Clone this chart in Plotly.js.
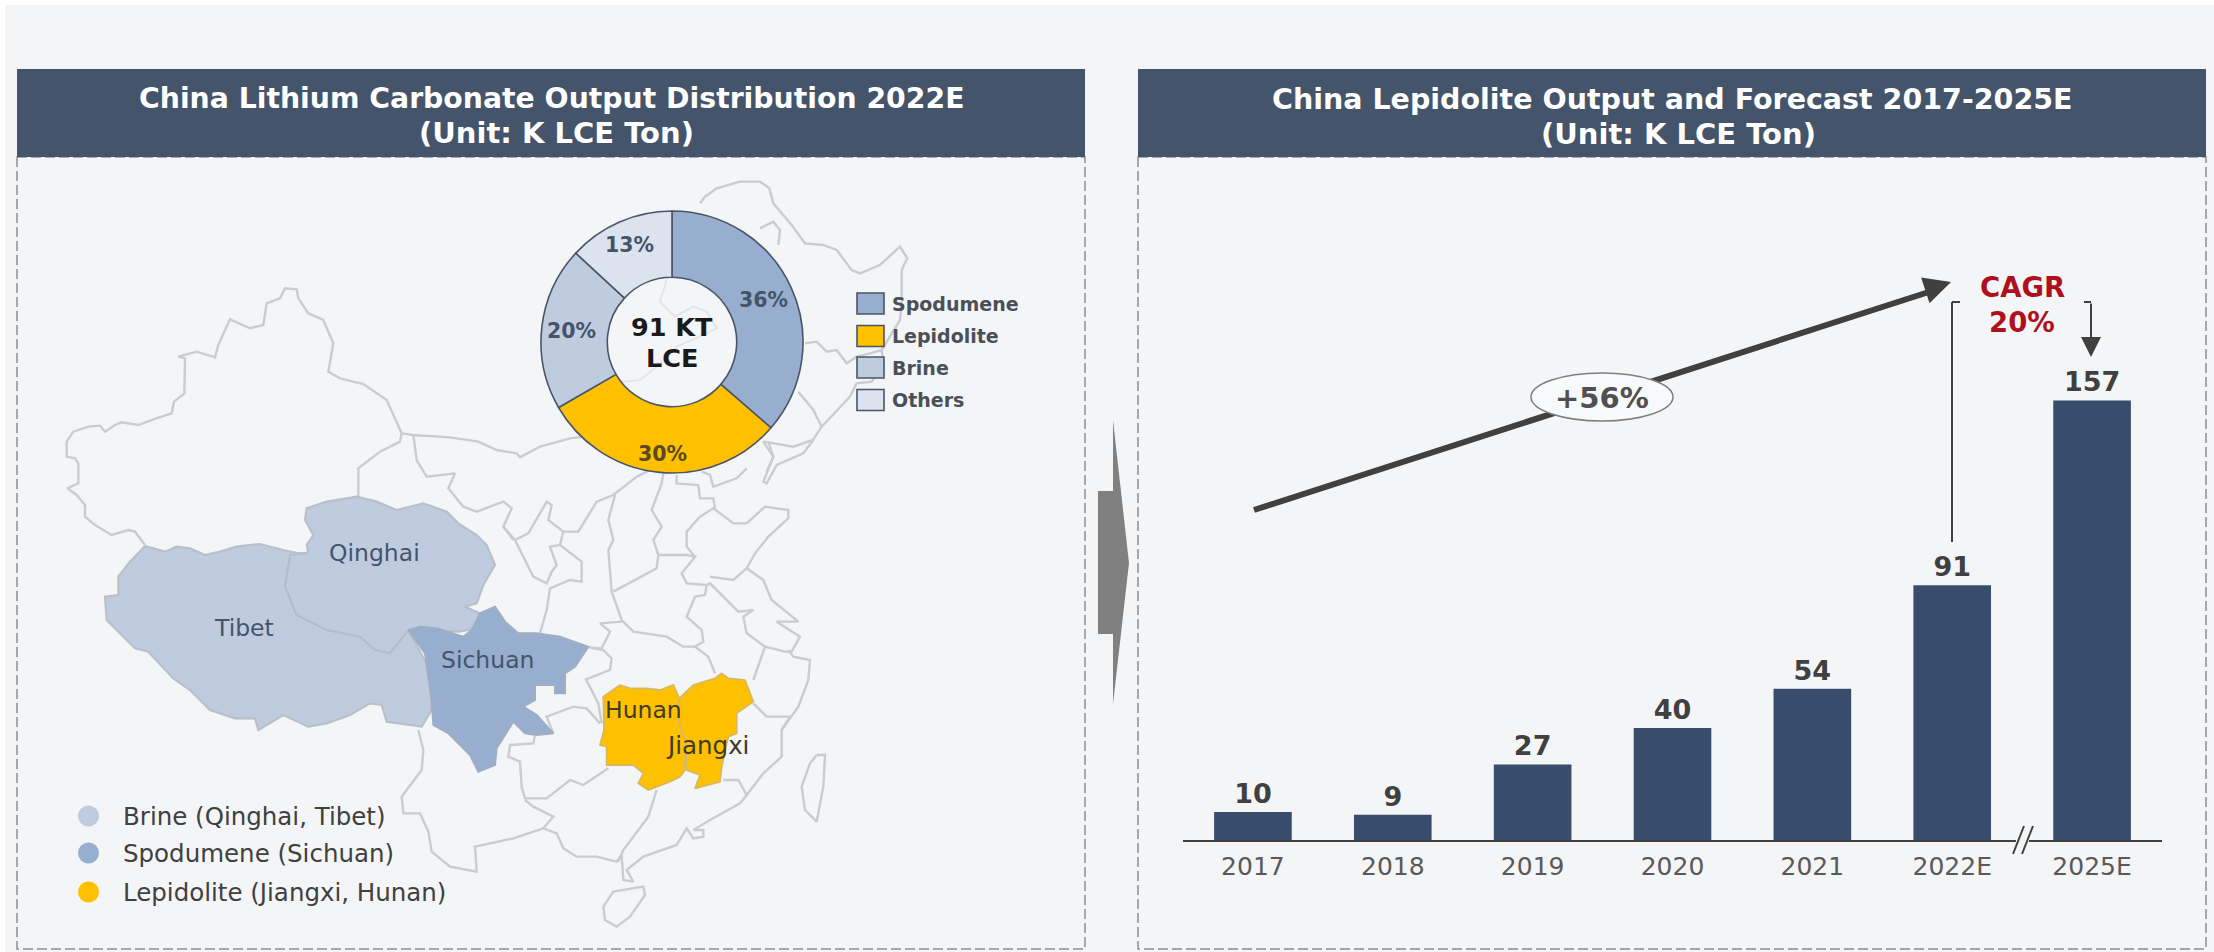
<!DOCTYPE html>
<html><head><meta charset="utf-8">
<script src="https://cdn.plot.ly/plotly-3.0.1.min.js"></script>
<style>html,body{margin:0;padding:0;background:#fff}#c{width:2214px;height:952px}</style></head>
<body><div id="c"></div>
<script>
const W=2214,H=952;
// ---- chart data
const years=['2017','2018','2019','2020','2021','2022E','2025E'];
const output=[10,9,27,40,54,91,157];
const mixLabels=['Spodumene','Lepidolite','Brine','Others'];
const mixValues=[36,30,20,13];
const mixColors=['#98AECE','#FFC000','#BFCCDF','#DCE3EE'];
const regionLegend=['Brine (Qinghai, Tibet)','Spodumene (Sichuan)','Lepidolite (Jiangxi, Hunan)'];
const regionColors=['#BFCCDF','#98AECE','#FFC000'];
const provinceNames=['Qinghai','Tibet','Sichuan','Hunan','Jiangxi'];
// ---- map outlines; each list is x,y in a 3x grid with its own origin
const O5=[50,260],O6=[400,440],O7=[560,170];
const tibet=[285,858,345,875,380,860,420,865,465,885,510,875,560,860,630,852,700,870,745,880,775,878,800,1000,1075,1110,1140,1230,1145,1350,1115,1400,1010,1385,995,1335,960,1330,900,1365,830,1390,775,1400,700,1365,625,1410,615,1375,555,1375,480,1350,420,1290,370,1255,295,1175,255,1165,170,1080,165,1010,205,1005,205,950,240,905];
const qinghai=[775,880,770,855,790,825,765,780,770,745,830,725,920,710,980,725,1040,750,1120,730,1190,755,1225,790,1280,825,1310,855,1335,915,1300,975,1280,1030,1245,1040,1300,1065,1300,1100,1230,1115,1075,1110,1020,1180,975,1170,930,1130,830,1110,740,1065,705,980,720,885];
const qinghaiEdge=[720,885,705,980,740,1065,830,1110,930,1130,975,1170,1020,1180,1075,1110];
const sichuan=[25,570,60,560,110,565,190,590,215,570,240,520,285,500,315,545,355,580,410,580,480,590,565,620,525,680,495,700,495,760,465,760,465,735,405,735,405,780,370,800,410,825,460,880,410,885,375,880,340,845,325,870,290,925,285,975,235,995,210,945,145,880,100,855,95,780,75,640];
const hunan=[660,735,690,745,740,745,780,750,820,735,838,775,835,840,855,900,855,990,840,1010,810,1025,770,1040,745,1050,715,1030,730,1000,700,975,620,975,620,920,600,915,612,870,610,770];
const jiangxi=[838,775,880,735,945,715,965,700,985,715,1035,720,1060,785,1010,820,1010,880,985,890,965,980,960,1025,885,1045,900,1005,860,990,855,900,835,840];
const hainan=[610,1400,640,1355,730,1340,735,1365,690,1430,650,1460,615,1440,610,1400];
const taiwan=[1250,945,1275,945,1270,1040,1250,1145,1215,1110,1205,1040,1230,970,1250,945];
const westLines=[
 [285,855,255,815,235,810,185,825,135,795,105,770,105,735,80,705,52,685,85,670,85,610,75,595,50,590,50,545,70,515,115,500,150,497,165,515,195,495,215,487,265,495,310,478,365,460,372,425,403,400,405,295,385,290,440,275,495,292,505,255,540,178,600,205,640,195,650,130,690,115,705,85,740,88,745,115,775,160,820,180,850,250,835,335,870,355,940,372,1010,420,1055,520],
 [1055,520,1050,545,990,575,925,625,925,712],
 [1055,520,1090,525,1200,532,1285,545,1340,570,1400,580,1410,592,1470,560,1560,535,1640,525],
 [1090,525,1100,600,1130,650,1215,640,1195,685,1240,740,1280,755,1360,725,1385,745,1360,800,1390,840]
];
const eastLines=[
 [310,260,345,300,385,280,440,185,455,195,445,240,490,275,535,275,590,185,640,165,710,110,760,85],
 [345,300,400,410,440,430,455,395,470,375,450,320,480,315,545,365,545,425,510,420,450,445,440,510,420,580],
 [490,275,480,315],
 [645,165,625,240,640,300,625,330,635,455,665,540,700,575,800,590,850,620,885,620],
 [665,545,600,550,630,575,605,625,565,622,610,630,635,655,630,690,558,718,595,790,605,850],
 [460,880,440,830,520,800,560,805,600,850],
 [405,885,400,910,330,915,325,950,360,965,365,1040,375,1075,440,1075,510,1020,550,1035,625,985],
 [375,1080,400,1100,460,1130,430,1165,470,1180,490,1225,530,1250,590,1250,650,1265,665,1245,670,1320,700,1325,680,1290,730,1250,830,1215,860,1165,880,1195,910,1190,910,1170,880,1170,930,1140,1020,1090,1040,1065],
 [55,870,70,930,65,990,5,1070,10,1120,60,1120,85,1175,95,1235,150,1280,230,1295,225,1220,340,1195,430,1165],
 [770,1050,745,1130,670,1230,655,1265],
 [970,1020,1015,1020,1040,1065,1090,1000,1145,950,1145,870,1195,800,1225,720,1230,660,1180,650,1165,630],
 [1145,870,1170,830,1100,830,1060,790],
 [1060,720,1095,620,1155,635,1175,635,1200,590,1130,545,1195,545,1115,480,1090,420,1040,385],
 [1095,620,1040,580,1030,530,1060,510,1015,515,970,470,930,430,920,435,915,465,885,470,860,530,905,570,910,605,885,620,925,650,945,700],
 [640,455,770,385,775,345,860,345,885,350,845,400,860,430,920,435],
 [775,345,760,300,785,260,755,210,785,130,790,100],
 [885,350,860,320,860,275,900,230,940,205,1000,250,1040,250,1095,200,1165,210,1165,235,1105,290,1065,340,1040,385,1000,420,930,410],
 [830,105,830,130,895,135,900,175,940,175,945,205],
 [905,95,930,105,940,140,1010,115,1040,85],
 [1105,5,1120,50,1090,125,1100,130,1130,75,1210,40,1240,0]
];
const northLines=[
 [420,100,435,80,470,55,540,35,600,35,628,55,640,100,695,165,735,220,790,225,830,240,875,300,900,310,960,285,1020,230,1042,265,1025,300,1025,400,1020,450,965,540,970,580,935,635,890,640,870,680,785,770,759,810,700,830,640,820,610,815,640,860,620,905],
 [735,520,770,515,800,545,830,540,860,580,890,560,930,550,965,540],
 [715,665,760,720,785,770],
 [600,175,640,155,660,180,655,225]
];
const holeLines=[[320,330,300,395,315,410,345,440,400,410,440,425,470,475,440,490,350,530,290,590,240,630,190,635,160,620]];

function toXY(list,o){const x=[],y=[];for(let i=0;i<list.length;i+=2){x.push(o[0]+list[i]/3);y.push(o[1]+list[i+1]/3);}return {x,y};}
function lines(groups,o){const x=[],y=[];groups.forEach(g=>{const p=toXY(g,o);x.push(...p.x,null);y.push(...p.y,null);});return {x,y};}
function poly(list,o,fill,edge,w){const p=toXY(list,o);return {type:'scatter',mode:'lines',x:p.x.concat(p.x[0]),y:p.y.concat(p.y[0]),fill:'toself',fillcolor:fill,line:{color:edge,width:w},xaxis:'x2',yaxis:'y2',hoverinfo:'skip',showlegend:false};}
function stroke(d,c,w){return {type:'scatter',mode:'lines',x:d.x,y:d.y,line:{color:c,width:w},xaxis:'x2',yaxis:'y2',hoverinfo:'skip',showlegend:false,connectgaps:false};}

const F='"DejaVu Sans", Verdana, sans-serif';
const MAPLINE='#CACCCF';
const cx=672,cy=342,R=131;
const traces=[
 {type:'bar',x:years,y:output,marker:{color:'#384C6C'},width:0.555,text:output.map(String),textposition:'outside',cliponaxis:false,
  textfont:{family:F,size:27,color:'#404040',weight:700},hoverinfo:'skip',showlegend:false},
 stroke(lines(westLines,O5),MAPLINE,2.4),
 stroke(lines(eastLines,O6),MAPLINE,2.4),
 stroke(lines(northLines,O7),MAPLINE,2.4),
 stroke(lines(holeLines,O7),'#E3E5E8',2),
 poly(hainan,O6,'rgba(0,0,0,0)',MAPLINE,2.4),
 poly(taiwan,O6,'rgba(0,0,0,0)',MAPLINE,2.4),
 poly(tibet,O5,'#BFCCDF','#B9C0CA',2.2),
 poly(qinghai,O5,'#BFCCDF','#B9C0CA',2.2),
 stroke(toXY(qinghaiEdge,O5),'#B4BDCB',1.6),
 poly(sichuan,O6,'#98AECE','#A0AEC4',2),
 poly(hunan,O6,'#FFC000','#D8B960',1.8),
 poly(jiangxi,O6,'#FFC000','#D8B960',1.8),
 {type:'scatter',mode:'markers',x:[88.5,88.5,88.5],y:[816,853,892],marker:{size:21,color:regionColors},xaxis:'x2',yaxis:'y2',hoverinfo:'skip',showlegend:false},
 {type:'pie',labels:mixLabels,values:mixValues,sort:false,direction:'clockwise',rotation:0,hole:0.494,
  marker:{colors:mixColors,line:{color:'#4A5568',width:1.6}},textinfo:'none',hoverinfo:'skip',showlegend:false,
  domain:{x:[(cx-R)/W,(cx+R)/W],y:[1-(cy+R)/H,1-(cy-R)/H]}}
];

function prect(x0,y0,x1,y1,fill,line){return {type:'rect',xref:'paper',yref:'paper',x0:x0/W,y0:1-y0/H,x1:x1/W,y1:1-y1/H,fillcolor:fill||'rgba(0,0,0,0)',line:line||{width:0},layer:'below'};}
function rect(x0,y0,x1,y1,fill,line,layer){return {type:'rect',xref:'x2',yref:'y2',x0,y0,x1,y1,fillcolor:fill||'rgba(0,0,0,0)',line:line||{width:0},layer:layer||'above'};}
function seg(x0,y0,x1,y1,c,w,layer){return {type:'line',xref:'x2',yref:'y2',x0,y0,x1,y1,line:{color:c,width:w},layer:layer||'above'};}
function txt(text,x,y,size,color,bold,anchor){return {text:bold?'<b>'+text+'</b>':text,x,y,xref:'x2',yref:'y2',showarrow:false,xanchor:anchor||'center',yanchor:'middle',font:{family:F,size,color}};}

const DASH={color:'#8C8F93',width:1.5,dash:'10px,4px'};
const shapes=[
 prect(5,5,W,H,'#F3F5F7'),
 prect(17,157,1085,949,null,DASH),
 prect(1138,157,2206,949,null,DASH),
 prect(17,69,1085,157,'#44546A'),
 prect(1138,69,2206,157,'#44546A'),
 {type:'path',xref:'x2',yref:'y2',path:'M1098 491 L1113 491 L1113 420 L1129 563 L1113 704 L1113 634 L1098 634 Z',fillcolor:'#808080',line:{width:0},layer:'above'},
 seg(1254,510,1935,290,'#404040',6),
 {type:'circle',xref:'x2',yref:'y2',x0:1531,x1:1673,y0:373,y1:421,fillcolor:'#F8F9FA',line:{color:'#7F7F7F',width:1.5},layer:'above'},
 seg(1960,302,1952,302,'#404040',2),
 seg(1952,302,1952,542,'#404040',2),
 seg(2084,302,2091,302,'#404040',2),
 seg(2016,840,2029,840,'#F3F5F7',4),
 seg(2013,854,2024,826,'#404040',2),
 seg(2022,854,2033,826,'#404040',2)
];
const legendY=[303.5,336,367.5,400];
mixLabels.forEach((l,i)=>shapes.push(rect(857,legendY[i]-10.5,884,legendY[i]+10.5,mixColors[i],{color:'#4A5568',width:1.6})));

const provX=[374,244,487,643,707], provY=[553,628,660,710,745], provC=['#44546A','#44546A','#44546A','#3F3A28','#3F3A28'];
const annotations=[
 txt('China Lithium Carbonate Output Distribution 2022E',551.5,98,28.3,'#FFFFFF',true),
 txt('(Unit: K LCE Ton)',556,133,29,'#FFFFFF',true),
 txt('China Lepidolite Output and Forecast 2017-2025E',1672,99,28.5,'#FFFFFF',true),
 txt('(Unit: K LCE Ton)',1678,134,29,'#FFFFFF',true),
 txt('91 KT',672,327,25.5,'#1A1A1A',true),
 txt('LCE',672,358,25.5,'#1A1A1A',true),
 txt(mixValues[0]+'%',763,300,20.5,'#44546A',true),
 txt(mixValues[1]+'%',662,454,20.5,'#5A4A20',true),
 txt(mixValues[2]+'%',571,331,20.5,'#44546A',true),
 txt(mixValues[3]+'%',629,245,20.5,'#44546A',true),
 txt('+56%',1602,398,29,'#505050',true),
 txt('CAGR',2022,287,27.5,'#B0101E',true),
 txt('20%',2022,322,27.5,'#B0101E',true),
 {x:1951,y:282,ax:1925,ay:290.5,xref:'x2',yref:'y2',axref:'x2',ayref:'y2',showarrow:true,text:'',arrowhead:2,arrowsize:0.9,arrowwidth:6,arrowcolor:'#404040'},
 {x:2091,y:357,ax:2091,ay:302,xref:'x2',yref:'y2',axref:'x2',ayref:'y2',showarrow:true,text:'',arrowhead:2,arrowsize:2,arrowwidth:2,arrowcolor:'#404040'}
];
mixLabels.forEach((l,i)=>annotations.push(txt(l,890,legendY[i],19,'#4A5058',true,'left')));
regionLegend.forEach((l,i)=>annotations.push(txt(l,121,[816,853,892][i],24.5,'#404040',false,'left')));
provinceNames.forEach((l,i)=>annotations.push(txt(l,provX[i],provY[i],i==4?24.5:23.5,provC[i],false)));

const layout={
 width:W,height:H,margin:{l:0,r:0,t:0,b:0,pad:0},paper_bgcolor:'#FFFFFF',plot_bgcolor:'rgba(0,0,0,0)',showlegend:false,
 font:{family:F},
 xaxis:{domain:[1183/W,2162/W],range:[-0.5,6.5],type:'category',categoryorder:'array',categoryarray:years,showgrid:false,zeroline:false,
  showline:true,linecolor:'#404040',linewidth:2,ticks:'',ticklabelstandoff:3,tickfont:{family:F,size:25,color:'#595959'},anchor:'y',fixedrange:true},
 yaxis:{domain:[1-840/H,1-170/H],range:[0,670/2.8],visible:false,anchor:'x',fixedrange:true},
 xaxis2:{domain:[0,1],range:[0,W],visible:false,anchor:'y2',fixedrange:true},
 yaxis2:{domain:[0,1],range:[H,0],visible:false,anchor:'x2',fixedrange:true},
 shapes,annotations
};
Plotly.newPlot('c',traces,layout,{displayModeBar:false,staticPlot:true});
</script></body></html>
